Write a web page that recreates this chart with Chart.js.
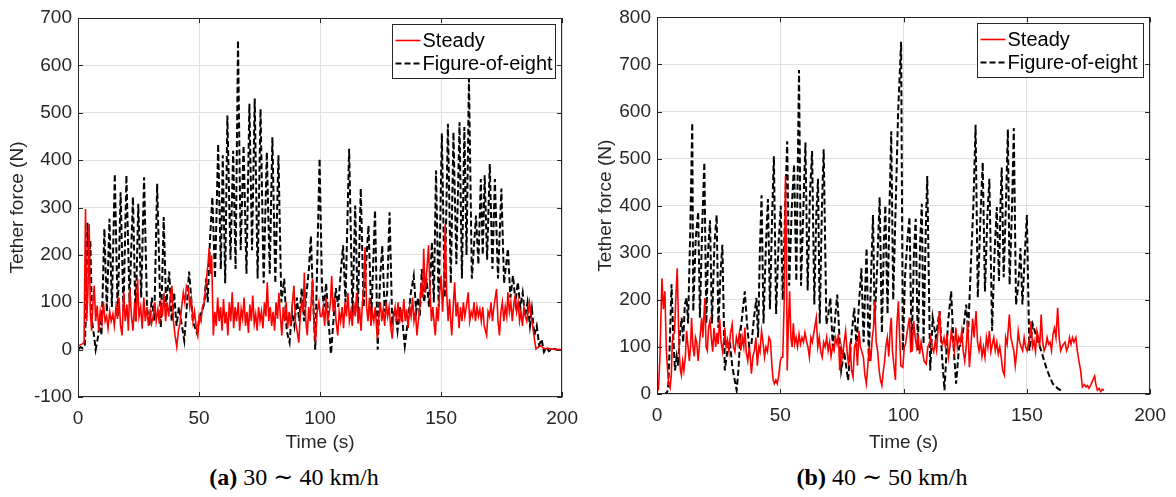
<!DOCTYPE html>
<html>
<head>
<meta charset="utf-8">
<title>Tether force</title>
<script src="https://cdn.jsdelivr.net/npm/chart.js@4.4.0/dist/chart.umd.min.js"></script>
<style>
  body { margin: 0; background: #fff; }
  #wrap { position: relative; width: 1176px; height: 497px; overflow: hidden; }
  .panel { position: absolute; top: 0; width: 588px; height: 460px; }
  .caption {
    position: absolute; top: 463px; width: 588px; text-align: center;
    font-family: 'Liberation Serif', 'DejaVu Serif', serif; font-size: 24px; color: #000;
  }
</style>
</head>
<body>
<div id="wrap">
  <div class="panel" style="left:0"><canvas id="chartA" width="588" height="460"></canvas></div>
  <div class="panel" style="left:588px"><canvas id="chartB" width="588" height="460"></canvas></div>
  <div class="caption" style="left:0"><b>(a)</b> 30 ∼ 40 km/h</div>
  <div class="caption" style="left:588px"><b>(b)</b> 40 ∼ 50 km/h</div>
</div>
<script>
// Axis ranges and labels
const TIME_TICKS = [0, 50, 100, 150, 200];
const FORCE_TICKS_A = [-100, 0, 100, 200, 300, 400, 500, 600, 700];
const FORCE_TICKS_B = [0, 100, 200, 300, 400, 500, 600, 700, 800];
const SERIES_LABELS = ['Steady', 'Figure-of-eight'];
const X_TITLE = 'Time (s)';
const Y_TITLE = 'Tether force (N)';

// (a) 30 ~ 40 km/h : [time s, force N]
const steadyA = [
  [0,8],[1,10],[1.8,12],[2.5,15],[3.1,297],[3.6,60],[4.1,120],[4.6,265],[5.1,80],[5.6,40],[6.2,100],[6.7,135],
  [7.3,60],[7.9,93],[8.6,40],[9.2,80],[9.9,55],[10.5,100],[11.2,60],[11.8,70],[12.4,45],[13.1,80],[13.7,60],
  [14.4,75],[15,50],[15.7,90],[16.3,65],[16.9,110],[17.6,50],[18.2,30],[18.9,121],[19.5,60],[20.2,95],[20.8,40],
  [21.4,130],[22.1,70],[22.7,40],[23.4,100],[24,60],[24.6,150],[25.2,70],[25.9,90],[26.5,44],[27.2,110],[27.8,60],
  [28.5,90],[29.1,50],[29.8,80],[30.4,55],[31.1,70],[31.7,100],[32.3,60],[33,85],[33.6,55],[34.3,95],[34.9,70],
  [35.5,120],[36.2,60],[36.8,100],[37.5,70],[38.1,110],[38.8,135],[39.4,60],[40.1,30],[40.8,6],[41.5,40],[42.2,58],
  [42.8,90],[43.5,120],[44.1,100],[44.8,135],[45.6,128],[46.2,90],[46.8,107],[47.5,60],[48.1,80],[48.8,50],
  [49.5,30],[50.1,72],[50.8,60],[51.4,90],[52.1,100],[52.7,130],[53.2,156],[53.7,180],[54.2,215],[54.7,160],
  [55.2,199],[55.9,30],[56.5,80],[57.1,50],[57.7,110],[58.3,60],[58.9,90],[59.5,40],[60.1,107],[60.7,55],[61.3,80],
  [61.9,30],[62.5,100],[63.1,60],[63.7,121],[64.3,45],[64.9,90],[65.5,60],[66.2,100],[66.8,40],[67.4,85],[68,65],
  [68.6,110],[69.2,50],[69.8,80],[70.4,35],[71,95],[71.6,60],[72.2,114],[72.8,55],[73.4,75],[74,40],[74.6,90],
  [75.2,60],[75.8,80],[76.4,45],[77,100],[77.6,70],[78.2,142],[78.8,60],[79.4,90],[80,50],[80.6,80],[81.2,40],
  [81.8,100],[82.4,65],[83,120],[83.6,70],[84.2,30],[84.8,90],[85.4,60],[86,100],[86.6,45],[87.2,80],[87.8,50],
  [88.5,95],[89.2,135],[89.8,60],[90.5,40],[91.2,15],[91.8,70],[92.4,100],[93,80],[93.5,163],[94.1,60],[94.7,30],
  [95.3,90],[95.9,60],[96.4,110],[96.9,149],[97.5,50],[98.1,15],[98.8,80],[99.5,100],[100.1,70],[100.7,70],
  [101.3,90],[101.9,50],[102.5,110],[103.1,60],[103.7,75],[104.3,100],[104.8,156],[105.4,80],[106,110],[106.6,60],
  [107.3,30],[107.9,80],[108.5,60],[109.1,90],[109.7,45],[110.3,100],[110.9,70],[111.5,120],[112.1,60],[112.7,80],
  [113.3,50],[113.9,100],[114.5,70],[115.1,120],[115.7,55],[116.3,90],[116.9,40],[117.5,100],[118,130],[118.6,216],
  [119.2,90],[119.8,60],[120.4,110],[121,50],[121.6,80],[122.2,60],[122.8,90],[123.4,40],[123.7,23],[124.3,70],
  [124.9,100],[125.5,60],[126.1,85],[126.7,50],[127.3,100],[127.9,70],[128.5,90],[129.1,50],[129.8,23],[130.4,70],
  [131,90],[131.6,60],[132.2,100],[132.8,55],[133.4,80],[134,65],[134.6,107],[135.2,60],[135.8,85],[136.4,45],
  [137,90],[137.6,70],[138.2,110],[138.8,60],[139.4,80],[140,30],[140.6,60],[141.2,90],[141.8,140],[142.4,110],
  [142.8,213],[143.4,120],[144,160],[144.8,220],[145.4,130],[146,60],[146.6,90],[147.2,50],[147.6,30],[148.2,90],
  [148.8,60],[149.4,120],[150,156],[150.6,80],[151.2,150],[151.7,265],[152.3,120],[152.9,60],[153.5,107],[154.1,50],
  [154.4,30],[155,90],[155.6,142],[156.2,70],[156.8,100],[157.4,45],[158,90],[158.6,60],[159.2,100],[159.8,70],
  [160.4,90],[161.2,121],[161.8,60],[162.4,80],[163,70],[163.6,100],[164.2,60],[164.8,90],[165.4,70],[166,85],
  [166.6,60],[167.2,90],[167.8,50],[168.8,30],[169.4,80],[170,70],[170.6,100],[171.2,60],[171.8,90],[172.9,128],
  [173.5,60],[174.1,30],[174.7,80],[175.3,100],[175.9,60],[176.5,90],[177.1,70],[177.6,121],[178.2,80],[178.8,100],
  [179.4,60],[180,95],[180.6,114],[181.2,80],[181.8,100],[182.4,60],[183,80],[183.6,50],[184.2,90],[184.8,70],
  [185.4,60],[186.5,100],[187.2,70],[188,44],[188.6,20],[189.2,1],[190,5],[191.3,8],[192,4],[193,2],[194,3],
  [196,1],[198,0],[200,0]
];
const eightA = [
  [0,0],[1,5],[2,3],[2.8,10],[3.2,60],[3.9,268],[4.5,180],[5.1,230],[5.8,60],[6.6,30],[7.3,0],[8.2,25],[9,60],
  [9.7,30],[10.9,255],[11.9,80],[13,276],[14,90],[15.2,371],[16.4,70],[17.6,332],[18.8,80],[20,368],[21.3,100],
  [22.7,322],[23.8,60],[24.9,308],[26.1,110],[27.3,364],[28.5,90],[29.5,50],[30.5,110],[31.5,60],[32.7,350],
  [34.2,47],[34.8,150],[35.4,280],[36.4,90],[37.7,165],[38.7,60],[39.7,120],[40.7,50],[41.7,90],[43.9,19],
  [44.8,80],[45.9,165],[46.6,120],[47.4,60],[49.2,34],[50.2,70],[51.4,82],[52.2,100],[52.9,150],[53.6,100],
  [54.5,230],[55.5,322],[56.6,150],[57.9,434],[59,170],[59.8,410],[60.8,140],[61.7,494],[63,190],[64.1,420],
  [65.1,170],[66.1,653],[67.2,210],[68.4,431],[69.6,160],[70.8,519],[71.9,210],[73,530],[74.2,150],[75.4,508],
  [76.7,140],[78,417],[79.2,160],[80.3,448],[81.5,140],[82.8,410],[84,100],[85.2,150],[86.2,40],[87.4,15],
  [88.4,80],[89.4,50],[90.4,110],[91.4,60],[92.4,130],[93.4,60],[94.4,120],[95.4,170],[96.2,240],[97,120],
  [98,0],[99.8,403],[100.8,130],[101.6,90],[102.5,140],[103.5,60],[104.5,-9],[105.5,60],[106.5,130],[107.5,90],
  [108.5,160],[109.5,220],[110.5,100],[112,424],[113.4,72],[114.5,304],[115.6,80],[116.8,340],[118,90],[119,180],
  [120,262],[121.2,70],[122.7,294],[123.8,0],[124.8,150],[125.7,220],[126.7,80],[127.7,120],[128.7,290],
  [129.8,60],[131,86],[132,40],[133,90],[134,60],[135,8],[136.5,70],[137.5,120],[138.7,156],[139.7,80],
  [140.5,110],[141.2,70],[142,170],[143,100],[144,150],[145,90],[146.2,227],[147,100],[147.9,378],[149,90],
  [150.3,456],[151.5,110],[152.8,477],[154,140],[155.1,459],[156.3,180],[157.6,480],[158.6,150],[159.6,470],
  [160.5,200],[161.5,572],[162.7,150],[164.4,283],[165.4,180],[166.4,360],[167.2,200],[168,368],[169,190],
  [170.1,392],[171.2,170],[172.2,360],[173.5,150],[174.9,340],[176,140],[177.6,213],[178.6,110],[179.7,156],
  [180.7,100],[181.7,142],[182.7,90],[183.7,120],[184.7,70],[185.7,100],[186.7,50],[187.5,86],[188.5,30],
  [189.5,50],[190.5,10],[191.5,22],[192.5,-5],[193.5,5],[194.5,-3],[196,2],[198,0],[200,0]
];

// (b) 40 ~ 50 km/h : [time s, force N]
const steadyB = [
  [0,5],[0.6,10],[1.2,80],[2,246],[2.6,180],[3.2,218],[3.8,92],[4.3,50],[4.8,20],[5.3,13],[5.8,40],[6.2,110],
  [6.6,127],[7.1,130],[7.6,200],[8.2,267],[8.7,150],[9.1,80],[9.5,50],[9.9,40],[10.4,70],[10.9,50],[11.5,80],
  [12,134],[12.6,100],[13.1,70],[13.6,100],[14,162],[14.6,100],[15.1,80],[15.6,120],[16.1,110],[16.7,70],
  [17.3,110],[18.1,162],[18.6,120],[19.4,204],[19.9,100],[20.4,92],[20.9,140],[21.5,156],[22,120],[22.6,90],
  [23.1,140],[23.8,100],[24.3,130],[24.8,106],[25.4,160],[26,110],[26.6,90],[27.2,120],[27.5,141],[28,100],
  [28.6,115],[29.2,90],[29.8,130],[30.5,148],[31,100],[31.6,90],[32.2,120],[32.8,106],[33.4,130],[34,92],
  [34.6,120],[35.2,100],[35.6,141],[36.2,90],[36.8,70],[37.5,100],[38.3,43],[38.9,80],[39.5,92],[40.1,120],
  [40.7,60],[41.3,100],[41.8,90],[42.4,134],[43,110],[43.6,78],[44.2,100],[44.8,90],[45.4,120],[46,113],
  [46.6,60],[47.1,30],[47.6,22],[48.2,30],[48.8,22],[49.4,40],[50,70],[50.5,78],[51,78],[51.6,200],[52.1,463],
  [52.5,300],[52.8,50],[53.3,150],[53.8,218],[54.3,120],[54.8,100],[55.3,150],[55.8,106],[56.4,120],[57,100],
  [57.6,127],[58.2,106],[58.8,120],[59.4,110],[60,130],[60.6,113],[61.2,100],[61.8,78],[62.4,120],[63,110],
  [63.6,130],[64.6,162],[65.2,100],[65.8,120],[66.4,90],[67,78],[67.6,110],[68.2,100],[68.8,120],[69.4,92],
  [70,110],[70.6,80],[71.2,100],[71.8,92],[72.4,120],[73,106],[73.6,127],[74.1,50],[74.7,100],[75.3,80],
  [75.9,110],[76.5,134],[77.1,90],[77.7,60],[78.3,110],[78.9,50],[79.5,36],[80.1,100],[80.7,110],[81.3,60],
  [81.9,134],[82.5,100],[83.1,90],[83.7,78],[84.3,40],[84.9,22],[85.5,60],[86.1,100],[86.7,70],[87.3,120],
  [87.8,140],[88.3,197],[88.9,110],[89.5,90],[90.1,50],[90.6,30],[91.2,18],[91.8,50],[92.2,64],[92.8,100],
  [93.4,120],[94,80],[94.6,140],[95,162],[95.5,90],[96.1,60],[96.7,30],[97.2,140],[97.9,197],[98.4,120],
  [98.9,60],[99.7,57],[100.3,100],[100.8,106],[101.4,130],[102.4,162],[102.9,90],[103.5,92],[104.1,155],
  [104.7,120],[105.3,100],[105.9,127],[106.5,85],[107.1,110],[107.7,90],[108.3,70],[109.2,64],[109.8,100],
  [110.4,106],[111,120],[111.6,100],[112.2,90],[112.8,110],[113.4,92],[114,140],[114.6,176],[115.2,110],
  [115.8,106],[116.4,120],[117,100],[117.6,127],[118.2,78],[118.8,100],[119.4,134],[120,110],[120.6,90],
  [121.2,141],[121.8,100],[122.4,120],[123,110],[123.6,134],[124.2,90],[124.8,70],[125.4,100],[126,155],
  [126.7,57],[127.3,100],[128,160],[128.6,120],[129.4,176],[130,110],[130.6,92],[131.2,113],[131.8,80],
  [132.4,100],[133,78],[133.6,120],[134.2,100],[134.8,134],[135.4,90],[136,106],[136.6,120],[137.2,92],
  [137.8,110],[138.4,85],[139,100],[139.6,78],[140.2,50],[140.9,40],[141.4,120],[142,106],[142.9,169],
  [143.5,120],[144.1,106],[144.7,92],[145.3,60],[145.9,90],[146.5,134],[147.1,110],[147.7,100],[148.3,92],
  [148.9,120],[149.5,100],[150.1,92],[150.7,110],[151.2,120],[151.7,155],[152.3,100],[152.9,113],[153.5,90],
  [154.1,134],[154.7,120],[155.2,100],[155.8,169],[156.4,110],[157,92],[157.6,100],[158.2,120],[158.8,106],
  [159.4,110],[160,92],[160.6,127],[161.2,140],[161.8,120],[162.5,183],[163.1,120],[163.7,92],[164.3,100],
  [164.9,106],[165.5,110],[166.1,92],[166.7,100],[167.3,120],[167.9,106],[168.5,120],[169.1,110],[169.9,120],
  [170.5,90],[171.1,71],[171.8,50],[172.5,15],[173.3,20],[174,15],[174.6,18],[175.2,12],[176,20],[176.8,30],
  [177.5,38],[178,20],[178.6,8],[179.3,12],[180,5],[180.6,10],[181.3,8]
];
const eightB = [
  [0,0],[1,-3],[2,0],[3,3],[4,0],[4.6,20],[5.3,127],[5.9,233],[6.6,120],[7.3,50],[8,80],[8.6,60],[9.3,130],
  [10,162],[10.6,110],[11.3,190],[12,204],[12.6,150],[13.5,350],[14.3,576],[14.7,176],[15.7,330],[16.7,387],
  [17.4,162],[18.3,350],[19.2,492],[20,150],[20.7,300],[21.5,369],[22.3,150],[23.3,320],[24.2,380],[24.9,140],
  [25.7,250],[26.5,317],[27.5,50],[28.5,90],[29.5,113],[30.5,60],[31.5,30],[32.3,8],[33,50],[34,140],[35.6,218],
  [36.5,150],[37.4,100],[38.3,106],[39.3,160],[40.3,204],[41,120],[41.7,300],[42.4,422],[43.2,150],[44.2,320],
  [45,414],[45.8,180],[46.7,380],[47.4,505],[48.3,170],[49.3,320],[50.2,400],[51,200],[52,400],[52.8,537],
  [53.6,230],[54.7,400],[55.6,488],[56.5,240],[57.6,688],[58.4,230],[59.4,400],[60.2,534],[61.1,220],[62,420],
  [62.9,516],[63.8,190],[64.6,380],[65.3,457],[66,150],[66.9,400],[67.6,520],[68.7,148],[69.5,170],[70.3,204],
  [71.3,100],[72.2,160],[73.1,211],[74.7,50],[75.9,90],[77.5,29],[78.8,120],[80,183],[80.9,100],[82,200],
  [82.9,267],[83.8,110],[84.3,200],[85,310],[85.9,70],[86.8,250],[87.6,380],[88.3,150],[89.5,300],[90.3,418],
  [91.2,130],[92,320],[92.6,400],[93.5,170],[94.3,400],[95,558],[95.8,200],[96.8,400],[97.8,600],[99,748],
  [99.7,92],[100.6,250],[101.6,330],[102.4,376],[103.3,92],[104.2,300],[104.9,372],[105.8,92],[106.7,320],
  [107.4,404],[108.1,106],[109,350],[109.6,463],[110.8,50],[111.8,162],[113.1,120],[114.6,176],[115.6,80],
  [116.6,8],[118,150],[119.3,218],[120.3,100],[121.3,22],[122.5,100],[123.5,106],[124.5,150],[125.4,190],
  [126.2,130],[127.4,288],[128.3,400],[129.2,572],[130.1,205],[131.2,380],[132.1,492],[133,218],[134,380],
  [134.8,457],[135.9,134],[136.9,300],[137.8,397],[138.7,240],[139.3,400],[139.8,481],[140.6,248],[141.5,400],
  [142.3,562],[143,232],[144,400],[144.7,565],[145.6,190],[146.5,230],[147.4,310],[148.2,190],[149.2,300],
  [150,380],[151,92],[152.4,148],[154,120],[155.8,92],[157.8,57],[159,40],[160.5,22],[162.5,12],[164.5,5]
];

const AXIS_COLOR = '#262626';
const GRID_COLOR = '#e0e0e0';
const FONT = "'Liberation Sans', Arial, Helvetica, sans-serif";

// Box, inward tick marks and the boxed legend, drawn over the data like MATLAB does
const frameAndLegend = {
  id: 'frameAndLegend',
  afterDraw(chart, args, opts) {
    const { ctx, chartArea: a, scales } = chart;
    ctx.save();
    ctx.strokeStyle = AXIS_COLOR;
    ctx.lineWidth = 1;
    ctx.strokeRect(Math.round(a.left) + 0.5, Math.round(a.top) + 0.5,
      Math.round(a.right - a.left) - 1, Math.round(a.bottom - a.top) - 1);
    ctx.beginPath();
    scales.x.ticks.forEach(t => {
      const px = Math.round(scales.x.getPixelForValue(t.value)) + 0.5;
      ctx.moveTo(px, a.bottom); ctx.lineTo(px, a.bottom - 5);
      ctx.moveTo(px, a.top); ctx.lineTo(px, a.top + 5);
    });
    scales.y.ticks.forEach(t => {
      const py = Math.round(scales.y.getPixelForValue(t.value)) + 0.5;
      ctx.moveTo(a.left, py); ctx.lineTo(a.left + 5, py);
      ctx.moveTo(a.right, py); ctx.lineTo(a.right - 5, py);
    });
    ctx.stroke();

    // legend
    const w = opts.width, h = 54;
    const x0 = Math.round(a.right - 7 - w) + 0.5, y0 = Math.round(a.top + 6) + 0.5;
    ctx.fillStyle = '#fff';
    ctx.fillRect(x0, y0, w, h);
    ctx.strokeStyle = AXIS_COLOR;
    ctx.strokeRect(x0, y0, w, h);
    ctx.font = '20px ' + FONT;
    ctx.textBaseline = 'middle';
    chart.data.datasets.forEach((ds, i) => {
      const yy = y0 + 16 + i * 23;
      ctx.beginPath();
      ctx.strokeStyle = ds.borderColor;
      ctx.lineWidth = ds.borderWidth;
      ctx.setLineDash(ds.borderDash || []);
      ctx.moveTo(x0 + 3, yy);
      ctx.lineTo(x0 + 28, yy);
      ctx.stroke();
      ctx.setLineDash([]);
      ctx.fillStyle = '#000';
      ctx.fillText(ds.label, x0 + 30, yy + 1);
    });
    ctx.restore();
  }
};

function makePanel(canvasId, steady, eight, forceTicks, geo) {
  const ctx = document.getElementById(canvasId).getContext('2d');
  return new Chart(ctx, {
    type: 'line',
    data: {
      datasets: [
        {
          label: SERIES_LABELS[0],
          data: steady.map(p => ({ x: p[0], y: p[1] })),
          borderColor: '#ff0000',
          borderWidth: 1.6,
          pointRadius: 0,
          tension: 0
        },
        {
          label: SERIES_LABELS[1],
          data: eight.map(p => ({ x: p[0], y: p[1] })),
          borderColor: '#000000',
          borderWidth: 2,
          borderDash: [6, 3],
          pointRadius: 0,
          tension: 0
        }
      ]
    },
    options: {
      responsive: false,
      animation: false,
      events: [],
      layout: { padding: { left: 0, top: geo.top, right: geo.right, bottom: 0 } },
      plugins: {
        legend: { display: false },
        tooltip: { enabled: false },
        frameAndLegend: { width: geo.legendWidth }
      },
      scales: {
        x: {
          type: 'linear',
          min: TIME_TICKS[0],
          max: TIME_TICKS[TIME_TICKS.length - 1],
          afterBuildTicks: s => { s.ticks = TIME_TICKS.map(v => ({ value: v })); },
          afterFit: s => { s.height = geo.xHeight; },
          grid: { color: GRID_COLOR, drawTicks: false },
          border: { display: false },
          ticks: { color: AXIS_COLOR, padding: 10, font: { family: FONT, size: 19 } },
          title: {
            display: true, text: X_TITLE, color: AXIS_COLOR,
            font: { family: FONT, size: 19 }, padding: { top: 0, bottom: 6 }
          }
        },
        y: {
          type: 'linear',
          min: forceTicks[0],
          max: forceTicks[forceTicks.length - 1],
          afterBuildTicks: s => { s.ticks = forceTicks.map(v => ({ value: v })); },
          afterFit: s => { s.width = geo.yWidth; },
          grid: { color: GRID_COLOR, drawTicks: false },
          border: { display: false },
          ticks: { color: AXIS_COLOR, padding: 6, font: { family: FONT, size: 19 } },
          title: {
            display: true, text: Y_TITLE, color: AXIS_COLOR,
            font: { family: FONT, size: 19 }, padding: { top: 6, bottom: 0 }
          }
        }
      }
    },
    plugins: [frameAndLegend]
  });
}

makePanel('chartA', steadyA, eightA, FORCE_TICKS_A,
  { top: 18, right: 22, yWidth: 78, xHeight: 63, legendWidth: 163 });
makePanel('chartB', steadyB, eightB, FORCE_TICKS_B,
  { top: 13, right: 25, yWidth: 69, xHeight: 66, legendWidth: 166 });
</script>
</body>
</html>
